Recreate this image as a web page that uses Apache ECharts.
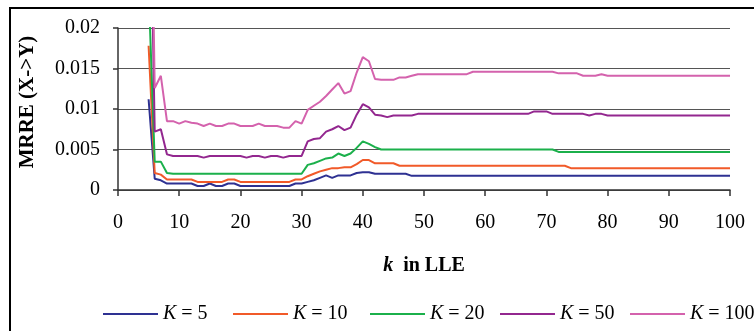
<!DOCTYPE html>
<html>
<head>
<meta charset="utf-8">
<script src="https://cdn.jsdelivr.net/npm/echarts@6/dist/echarts.min.js"></script>
<style>
  html, body { margin: 0; padding: 0; background: #ffffff; }
  #chart { width: 754px; height: 331px; }
</style>
</head>
<body>
<div id="chart"></div>
<script>
// Neighbourhood size k used by LLE; every curve starts at k = 5 and steps by 1.
const firstK = 5;

const seriesNames = ['K = 5', 'K = 10', 'K = 20', 'K = 50', 'K = 100'];

// MRRE (X->Y), one value per k = 5 ... 100
const mrreK5 = [
  0.0112, 0.0014, 0.0012, 0.0008, 0.0008, 0.0008, 0.0008, 0.0008, 0.0005, 0.0005,
  0.0008, 0.0005, 0.0005, 0.0008, 0.0008, 0.0005, 0.0005, 0.0005, 0.0005, 0.0005,
  0.0005, 0.0005, 0.0005, 0.0005, 0.0008, 0.0008, 0.0010, 0.0012, 0.0015, 0.0018,
  0.0015, 0.0018, 0.0018, 0.0018, 0.0021, 0.0022, 0.0022, 0.0020, 0.0020, 0.0020,
  0.0020, 0.0020, 0.0020, 0.00175, 0.00175, 0.00175, 0.00175, 0.00175, 0.00175, 0.00175,
  0.00175, 0.00175, 0.00175, 0.00175, 0.00175, 0.00175, 0.00175, 0.00175, 0.00175, 0.00175,
  0.00175, 0.00175, 0.00175, 0.00175, 0.00175, 0.00175, 0.00175, 0.00175, 0.00175, 0.00175,
  0.00175, 0.00175, 0.00175, 0.00175, 0.00175, 0.00175, 0.00175, 0.00175, 0.00175, 0.00175,
  0.00175, 0.00175, 0.00175, 0.00175, 0.00175, 0.00175, 0.00175, 0.00175, 0.00175, 0.00175,
  0.00175, 0.00175, 0.00175, 0.00175, 0.00175, 0.00175
];

const mrreK10 = [
  0.0178, 0.0021, 0.0019, 0.0013, 0.0013, 0.0013, 0.0013, 0.0013, 0.0010, 0.0010,
  0.0010, 0.0010, 0.0010, 0.0013, 0.0013, 0.0010, 0.0010, 0.0010, 0.0010, 0.0010,
  0.0010, 0.0010, 0.0010, 0.0010, 0.0013, 0.0013, 0.0017, 0.0020, 0.0023, 0.0025,
  0.0027, 0.0027, 0.0028, 0.0028, 0.0032, 0.0037, 0.0037, 0.0033, 0.0033, 0.0033,
  0.0033, 0.0030, 0.0030, 0.0030, 0.0030, 0.0030, 0.0030, 0.0030, 0.0030, 0.0030,
  0.0030, 0.0030, 0.0030, 0.0030, 0.0030, 0.0030, 0.0030, 0.0030, 0.0030, 0.0030,
  0.0030, 0.0030, 0.0030, 0.0030, 0.0030, 0.0030, 0.0030, 0.0030, 0.0030, 0.0027,
  0.0027, 0.0027, 0.0027, 0.0027, 0.0027, 0.0027, 0.0027, 0.0027, 0.0027, 0.0027,
  0.0027, 0.0027, 0.0027, 0.0027, 0.0027, 0.0027, 0.0027, 0.0027, 0.0027, 0.0027,
  0.0027, 0.0027, 0.0027, 0.0027, 0.0027, 0.0027
];

const mrreK20 = [
  0.0250, 0.0035, 0.0035, 0.0021, 0.0020, 0.0020, 0.0020, 0.0020, 0.0020, 0.0020,
  0.0020, 0.0020, 0.0020, 0.0020, 0.0020, 0.0020, 0.0020, 0.0020, 0.0020, 0.0020,
  0.0020, 0.0020, 0.0020, 0.0020, 0.0020, 0.0020, 0.0031, 0.0033, 0.0036, 0.0039,
  0.0040, 0.0045, 0.0042, 0.0045, 0.0052, 0.0060, 0.0057, 0.0053, 0.0050, 0.0050,
  0.0050, 0.0050, 0.0050, 0.0050, 0.0050, 0.0050, 0.0050, 0.0050, 0.0050, 0.0050,
  0.0050, 0.0050, 0.0050, 0.0050, 0.0050, 0.0050, 0.0050, 0.0050, 0.0050, 0.0050,
  0.0050, 0.0050, 0.0050, 0.0050, 0.0050, 0.0050, 0.0050, 0.0047, 0.0047, 0.0047,
  0.0047, 0.0047, 0.0047, 0.0047, 0.0047, 0.0047, 0.0047, 0.0047, 0.0047, 0.0047,
  0.0047, 0.0047, 0.0047, 0.0047, 0.0047, 0.0047, 0.0047, 0.0047, 0.0047, 0.0047,
  0.0047, 0.0047, 0.0047, 0.0047, 0.0047, 0.0047
];

const mrreK50 = [
  0.0500, 0.0072, 0.0075, 0.0044, 0.0042, 0.0042, 0.0042, 0.0042, 0.0042, 0.0040,
  0.0042, 0.0042, 0.0042, 0.0042, 0.0042, 0.0042, 0.0040, 0.0042, 0.0042, 0.0040,
  0.0042, 0.0042, 0.0040, 0.0042, 0.0042, 0.0042, 0.0060, 0.0063, 0.0064, 0.0072,
  0.0075, 0.0079, 0.0074, 0.0077, 0.0093, 0.0106, 0.0102, 0.0093, 0.0092, 0.0090,
  0.0092, 0.0092, 0.0092, 0.0092, 0.0094, 0.0094, 0.0094, 0.0094, 0.0094, 0.0094,
  0.0094, 0.0094, 0.0094, 0.0094, 0.0094, 0.0094, 0.0094, 0.0094, 0.0094, 0.0094,
  0.0094, 0.0094, 0.0094, 0.0097, 0.0097, 0.0097, 0.0094, 0.0094, 0.0094, 0.0094,
  0.0094, 0.0094, 0.0092, 0.0094, 0.0094, 0.0092, 0.0092, 0.0092, 0.0092, 0.0092,
  0.0092, 0.0092, 0.0092, 0.0092, 0.0092, 0.0092, 0.0092, 0.0092, 0.0092, 0.0092,
  0.0092, 0.0092, 0.0092, 0.0092, 0.0092, 0.0092
];

const mrreK100 = [
  0.0600, 0.0126, 0.0141, 0.0085, 0.0085, 0.0082, 0.0085, 0.0083, 0.0082, 0.0079,
  0.0082, 0.0079, 0.0079, 0.0082, 0.0082, 0.0079, 0.0079, 0.0079, 0.0082, 0.0079,
  0.0079, 0.0079, 0.0077, 0.0077, 0.0085, 0.0082, 0.0099, 0.0104, 0.0109, 0.0116,
  0.0124, 0.0132, 0.0119, 0.0122, 0.0145, 0.0164, 0.0159, 0.0137, 0.0136, 0.0136,
  0.0136, 0.0139, 0.0139, 0.0141, 0.0143, 0.0143, 0.0143, 0.0143, 0.0143, 0.0143,
  0.0143, 0.0143, 0.0143, 0.0146, 0.0146, 0.0146, 0.0146, 0.0146, 0.0146, 0.0146,
  0.0146, 0.0146, 0.0146, 0.0146, 0.0146, 0.0146, 0.0146, 0.0144, 0.0144, 0.0144,
  0.0144, 0.0141, 0.0141, 0.0141, 0.0143, 0.0141, 0.0141, 0.0141, 0.0141, 0.0141,
  0.0141, 0.0141, 0.0141, 0.0141, 0.0141, 0.0141, 0.0141, 0.0141, 0.0141, 0.0141,
  0.0141, 0.0141, 0.0141, 0.0141, 0.0141, 0.0141
];

const seriesValues = [mrreK5, mrreK10, mrreK20, mrreK50, mrreK100];
const seriesColors = ['#2e3192', '#f15a29', '#1bb04b', '#93278f', '#d462ad'];

const FONT = '"Liberation Serif", "Times New Roman", serif';

function toPoints(values) {
  return values.map((v, i) => [firstK + i, v]);
}

// Legend entries placed one by one along the bottom row
const legendLeft = [103, 233, 370, 500, 630];
const legends = seriesNames.map((name, i) => ({
  data: [name],
  left: legendLeft[i],
  top: 304,
  padding: 0,
  icon: 'rect',
  itemWidth: 55,
  itemHeight: 2,
  itemGap: 0,
  selectedMode: false,
  formatter: n => '{i|K}' + n.slice(1),
  textStyle: {
    fontFamily: FONT,
    fontSize: 20,
    color: '#000',
    rich: { i: { fontFamily: FONT, fontSize: 20, fontStyle: 'italic', color: '#000' } }
  }
}));

const chart = echarts.init(document.getElementById('chart'), null, { renderer: 'canvas' });

chart.setOption({
  animation: false,
  backgroundColor: '#ffffff',
  grid: { left: 118, right: 24, top: 28, bottom: 141, containLabel: false },
  legend: legends,
  graphic: [
    {
      type: 'rect',
      shape: { x: 10, y: 8, width: 800, height: 400 },
      style: { fill: 'none', stroke: '#000', lineWidth: 2 },
      silent: true
    },
    {
      type: 'text',
      x: 28,
      y: 102,
      rotation: Math.PI / 2,
      style: {
        text: 'MRRE (X->Y)',
        fontFamily: FONT,
        fontSize: 21,
        fontWeight: 'bold',
        fill: '#000',
        textAlign: 'center',
        textVerticalAlign: 'middle'
      },
      silent: true
    }
  ],
  xAxis: {
    type: 'value',
    min: 0,
    max: 100,
    interval: 10,
    name: '{i|k}  in LLE',
    nameLocation: 'middle',
    nameGap: 66,
    nameTextStyle: {
      fontFamily: FONT,
      fontSize: 20,
      fontWeight: 'bold',
      color: '#000',
      rich: { i: { fontFamily: FONT, fontSize: 20, fontWeight: 'bold', fontStyle: 'italic', color: '#000' } }
    },
    axisLine: { show: true, onZero: false, lineStyle: { color: '#333', width: 1.5 } },
    axisTick: { show: true, inside: false, length: 6, lineStyle: { color: '#333', width: 1.5 } },
    axisLabel: { fontFamily: FONT, fontSize: 20, color: '#000', margin: 23 },
    splitLine: { show: false }
  },
  yAxis: {
    type: 'value',
    min: 0,
    max: 0.02,
    interval: 0.005,
    axisLine: { show: true, lineStyle: { color: '#333', width: 1.5 } },
    axisTick: { show: true, inside: false, length: 5, lineStyle: { color: '#333', width: 1.5 } },
    axisLabel: { fontFamily: FONT, fontSize: 20, color: '#000', margin: 18 },
    splitLine: { show: true, lineStyle: { color: '#555', width: 1 } }
  },
  series: seriesNames.map((name, i) => ({
    name: name,
    type: 'line',
    data: toPoints(seriesValues[i]),
    symbol: 'none',
    showSymbol: false,
    clip: true,
    color: seriesColors[i],
    lineStyle: { color: seriesColors[i], width: 2 },
    emphasis: { disabled: true },
    z: 2 + i
  }))
});
</script>
</body>
</html>
